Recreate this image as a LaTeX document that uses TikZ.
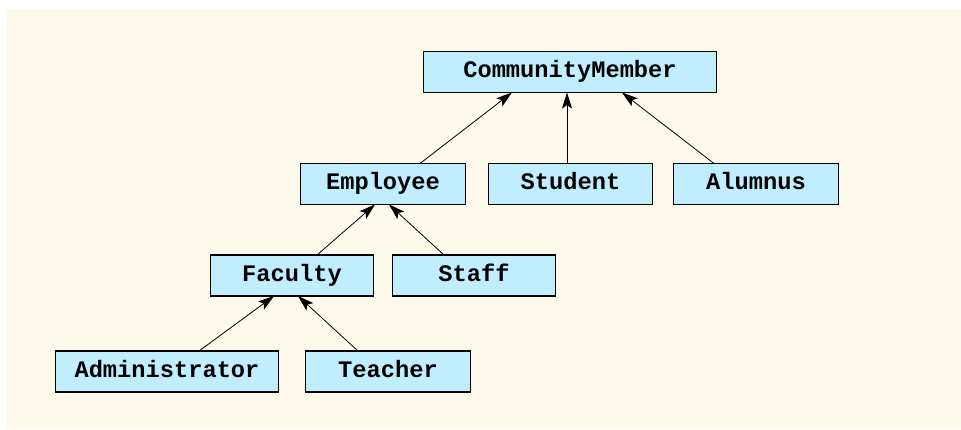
\documentclass[tikz,border=0pt]{standalone}
\usepackage{fontspec}
\setmonofont{Liberation Mono}
\usetikzlibrary{arrows.meta}
\definecolor{boxblue}{RGB}{192,238,255}
\definecolor{papercream}{RGB}{253,249,235}

\begin{document}
\begin{tikzpicture}[
    x=1pt, y=-1pt,
    cls/.style={draw=black, fill=boxblue, line width=1.6pt, minimum height=41pt,
        inner sep=0pt, outer sep=0pt, text height=15pt, text depth=3.5pt,
        font=\ttfamily\bfseries\fontsize{23.7}{28}\selectfont},
    >={Stealth[length=16pt, width=10pt, inset=3.5pt]},
    inherit/.style={->, line width=0.8pt}
]
    % background
    \useasboundingbox (0,0) rectangle (961,429);
    \fill[papercream] (7,9) rectangle (961,429);

    % classes (8 boxes)
    \node[cls, minimum width=293pt] (CM) at (570,72) {CommunityMember};
    \node[cls, minimum width=165pt] (E) at (383,184) {Employee};
    \node[cls, minimum width=164pt] (S) at (570.5,184) {Student};
    \node[cls, minimum width=165pt] (A) at (756,184) {Alumnus};
    \node[cls, minimum width=163pt] (F) at (292,275.5) {Faculty};
    \node[cls, minimum width=163pt] (St) at (474,275.5) {Staff};
    \node[cls, minimum width=223pt] (Ad) at (167,371.5) {Administrator};
    \node[cls, minimum width=165pt] (T) at (388,371.5) {Teacher};

    % --- into CommunityMember ---
    \draw[inherit] ([xshift=37pt]E.north) -- ([xshift=-58pt]CM.south);
    \draw[inherit] ([xshift=-3.5pt]S.north) -- ([xshift=-3pt]CM.south);
    \draw[inherit] ([xshift=-42pt]A.north) -- ([xshift=52pt]CM.south);

    % --- into Employee ---
    \draw[inherit] ([xshift=25pt]F.north) -- ([xshift=-8pt]E.south);
    \draw[inherit] ([xshift=-30pt]St.north) -- ([xshift=6pt]E.south);

    % --- into Faculty ---
    \draw[inherit] ([xshift=32pt]Ad.north) -- ([xshift=-18pt]F.south);
    \draw[inherit] ([xshift=-30pt]T.north) -- ([xshift=6pt]F.south);

\end{tikzpicture}
\end{document}
